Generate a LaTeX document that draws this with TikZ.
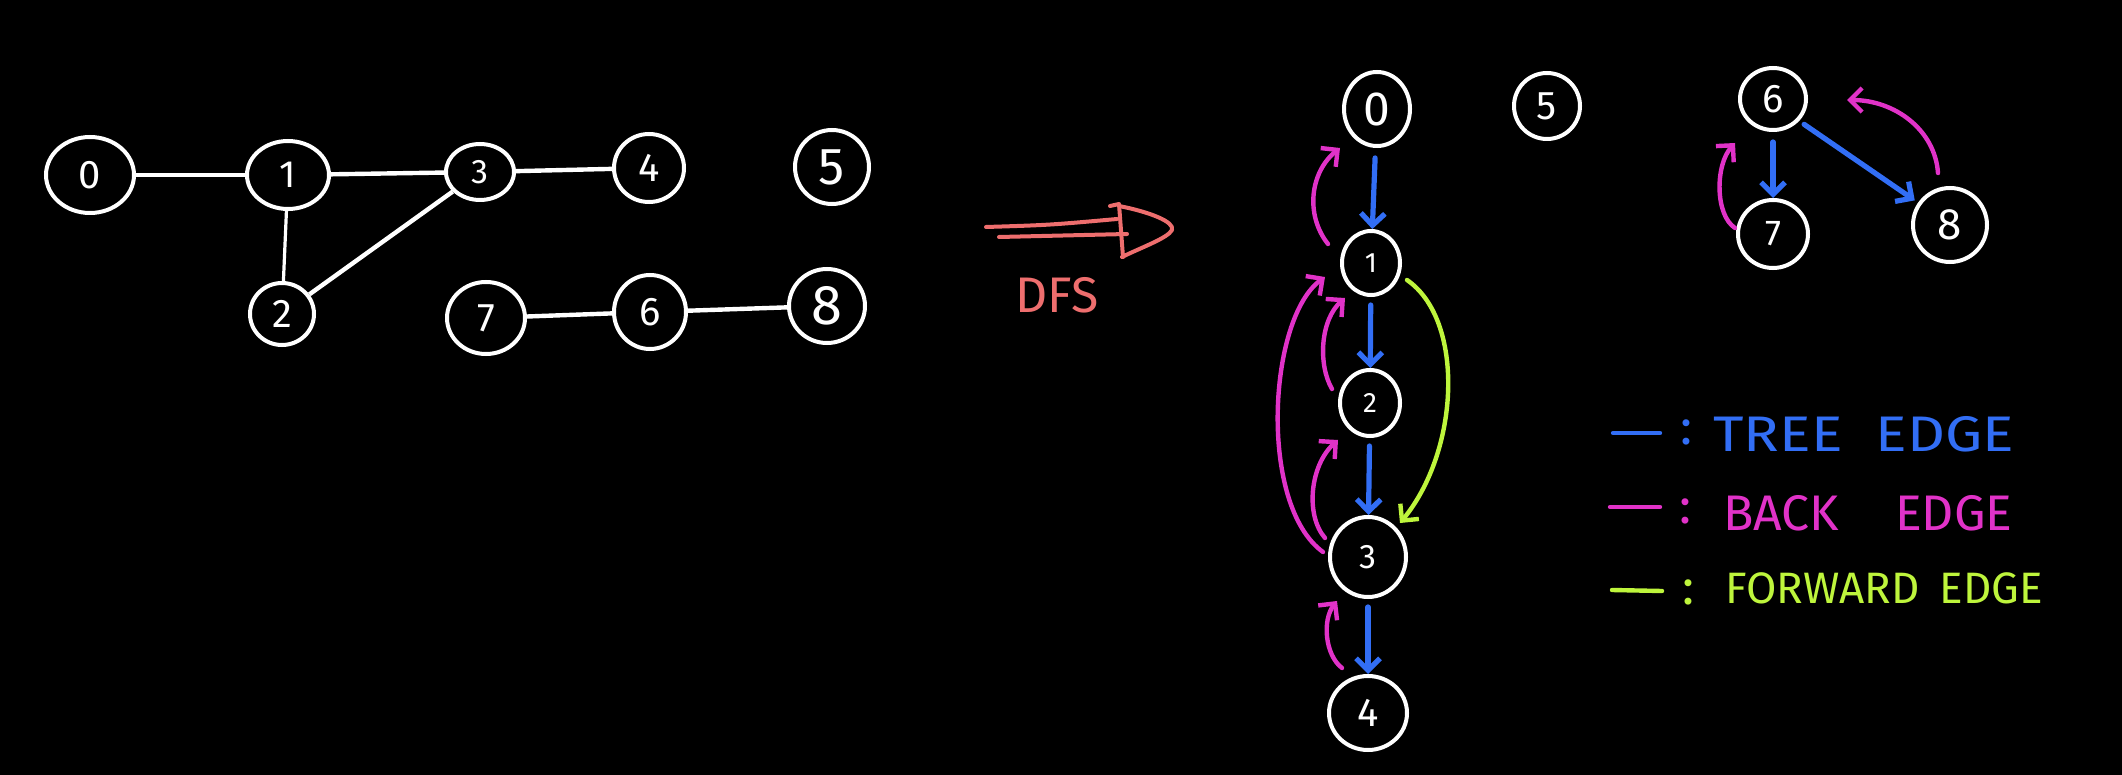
\documentclass[tikz,border=0pt]{standalone}
\usepackage{graphicx}
\usepackage{fontspec}
\setmainfont{Fira Sans}
\usetikzlibrary{shapes.geometric,arrows.meta,calc}
\definecolor{tblue}{RGB}{50,110,245}
\definecolor{tpink}{RGB}{225,50,200}
\definecolor{tlime}{RGB}{190,245,60}
\definecolor{tsalmon}{RGB}{238,110,110}
\begin{document}
\begin{tikzpicture}[x=0.5pt,y=-0.5pt,
  fs/.style={font=\fontsize{#1}{#1}\selectfont},
  vtx/.style={ellipse, draw=white, line width=2pt, text=white, inner sep=0pt, fs=17},
  vsz/.style 2 args={minimum width=#1pt, minimum height=#2pt},
  gedge/.style={draw=white, line width=2.2pt},
  tip/.style={-{Straight Barb[length=6pt,width=12pt]}},
  tree/.style={tip, draw=tblue, line width=2.6pt, line cap=round, line join=round},
  back/.style={tip, draw=tpink, line width=2.2pt, line cap=round, line join=round},
  fwd/.style={tip, draw=tlime, line width=2.2pt, line cap=round, line join=round},
  swatch/.style={line width=2.2pt, line cap=round},
  colon/.style={inner sep=0pt, fs=25},
  legtext/.style={anchor=west, inner sep=0pt, fs=25},
]
\path[use as bounding box, fill=black] (0,0) rectangle (2122,775);

% ---------- left graph ----------
\node[vtx, vsz={44}{38}, fs=20] (L0) at (90,175) {0};
\node[vtx, vsz={41}{34}, fs=19] (L1) at (288,175) {1};
\node[vtx, vsz={34}{28}] (L3) at (480,172) {3};
\node[vtx, vsz={35}{34}, fs=20] (L4) at (649,168) {4};
\node[vtx, vsz={37}{37}, fs=26] (L5) at (832,167) {5};
\node[vtx, vsz={32}{31}, fs=20] (L2) at (282,314) {2};
\node[vtx, vsz={39}{36}, fs=20] (L7) at (486,318) {7};
\node[vtx, vsz={36}{37}, fs=20] (L6) at (650,312) {6};
\node[vtx, vsz={38}{37}, fs=28] (L8) at (827,306) {8};

\draw[gedge] (L0) -- (L1);
\draw[gedge] (L1) -- (L3);
\draw[gedge] (L3) -- (L4);
\draw[gedge, line width=1.6pt] (L1) -- (L2);
\draw[gedge] (L2) -- (L3);
\draw[gedge] (L7) -- (L6);
\draw[gedge] (L6) -- (L8);

% ---------- DFS arrow ----------
\begin{scope}[draw=tsalmon, line width=2pt, line cap=round, line join=round]
\draw (986,227) .. controls (1050,225) .. (1117,219);
\draw (999,237) -- (1127,234);
\draw (1110,206) -- (1119,204) -- (1123,257);
\draw (1119,206) .. controls (1150,212) and (1175,222) .. (1172,230)
      .. controls (1168,238) and (1140,248) .. (1122,257);
\end{scope}
\node[text=tsalmon, fs=25, inner sep=0pt] (dfs) at (1057,295) {DFS};

% ---------- DFS tree ----------
\node[vtx, vsz={33}{37}, fs=24] (R0) at (1377,109) {0};
\node[vtx, vsz={33}{33}, fs=20] (R5) at (1547,106) {5};
\node[vtx, vsz={33}{31}, fs=20] (R6) at (1773,99) {6};
\node[vtx, vsz={35}{34}, fs=18] (R7) at (1773,234) {7};
\node[vtx, vsz={37}{37}, fs=22] (R8) at (1950,225) {8};
\node[vtx, vsz={29}{32}, fs=14] (R1) at (1371,263) {1};
\node[vtx, vsz={30}{33}, fs=14] (R2) at (1370,403) {2};
\node[vtx, vsz={38}{40}, fs=17] (R3) at (1368,557) {3};
\node[vtx, vsz={39}{37}, fs=20] (R4) at (1368,713) {4};

% tree edges
\draw[tree, shorten <=5pt] (R0) -- (R1);
\draw[tree, shorten <=4pt] (R1) -- (R2);
\draw[tree, shorten <=4pt] (R2) -- (R3);
\draw[tree, shorten <=4pt] (R3) -- (R4);
\draw[tree, shorten <=5pt] (R6) -- (R7);
\draw[tree, shorten <=3pt, shorten >=2pt] (R6.-40) -- (R8.145);

% back edges
\draw[back] ($(R1)+(-43,-19)$) .. controls (1305,215) and (1310,172) .. ($(R0)+(-37,39)$);
\draw[back] ($(R2)+(-38,-14)$) .. controls (1318,365) and (1320,320) .. ($(R1)+(-26,35)$);
\draw[back] ($(R3)+(-45,-5)$) .. controls (1258,505) and (1268,318) .. ($(R1)+(-46,14)$);
\draw[back] ($(R3)+(-43,-19)$) .. controls (1305,515) and (1310,465) .. ($(R2)+(-32,37)$);
\draw[back] ($(R4)+(-26,-45)$) .. controls (1325,655) and (1322,620) .. ($(R3)+(-31,44)$);
\draw[back] ($(R7)+(-38,-6)$) .. controls (1715,215) and (1715,165) .. ($(R6)+(-38,44)$);
\draw[back] ($(R8)+(-12,-52)$) .. controls (1935,130) and (1895,100) .. ($(R6)+(74,1)$);

% forward edge
\draw[fwd] ($(R1)+(36,17)$) .. controls (1465,320) and (1460,450) .. ($(R3)+(32,-34)$);

% ---------- legend ----------
\draw[swatch, tblue] (1613,433) -- (1660,433);
\node[colon, text=tblue] (c1) at (1686,432) {:};
\node[legtext, text=tblue] (lt) at (1713,434) {\scalebox{1.18}[1]{TREE\hspace{14pt}EDGE}};

\draw[swatch, tpink] (1610,507) -- (1660,507);
\node[colon, text=tpink] (c2) at (1685,511) {:};
\node[legtext, text=tpink] (lb) at (1723,513) {BACK\hspace{28pt}EDGE};

\draw[swatch, tlime] (1612,590) -- (1662,591);
\node[colon, text=tlime] (c3) at (1688,592) {:};
\node[legtext, text=tlime, fs=22] (lf) at (1725,588) {FORWARD\hspace{10pt}EDGE};
\end{tikzpicture}
\end{document}
